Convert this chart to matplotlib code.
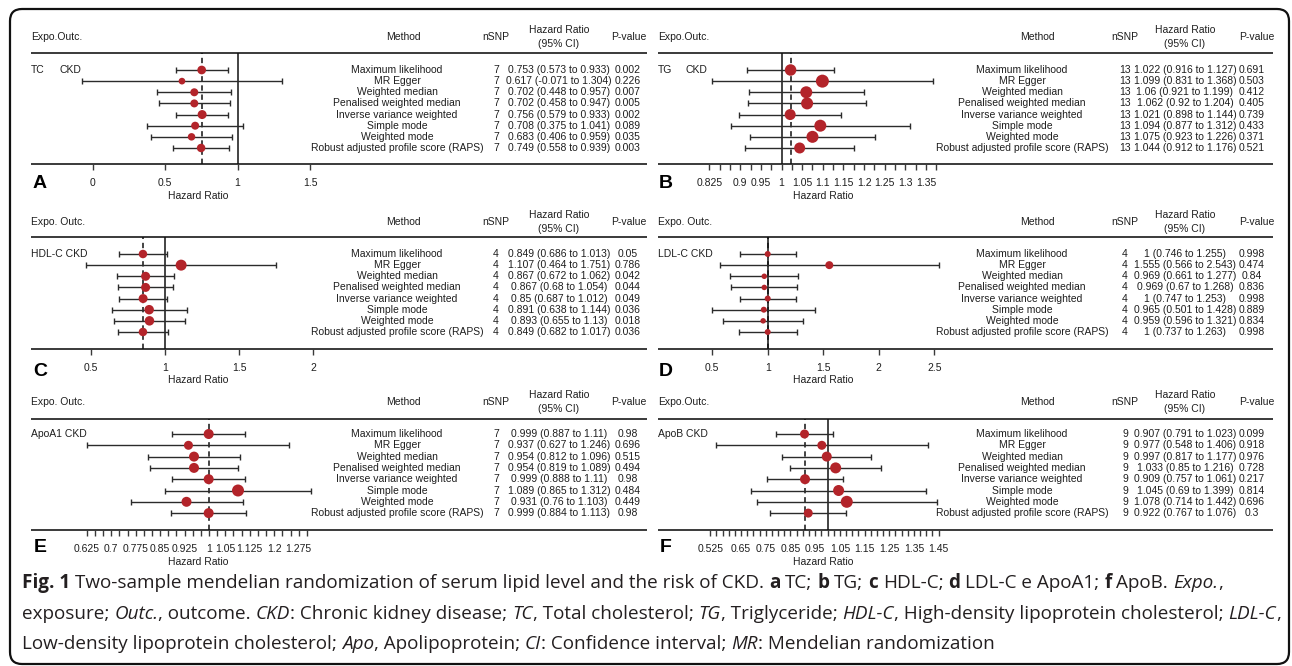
import numpy as np
import matplotlib
matplotlib.use("Agg")
import matplotlib.pyplot as plt
from matplotlib.patches import FancyBboxPatch
from matplotlib.font_manager import FontProperties

# ---- data -------------------------------------------------------------
methods = ["Maximum likelihood", "MR Egger", "Weighted median",
           "Penalised weighted median", "Inverse variance weighted",
           "Simple mode", "Weighted mode",
           "Robust adjusted profile score (RAPS)"]

tc_hr = [0.753, 0.617, 0.702, 0.702, 0.756, 0.708, 0.683, 0.749]
tc_lo = [0.573, -0.071, 0.448, 0.458, 0.579, 0.375, 0.406, 0.558]
tc_hi = [0.933, 1.304, 0.957, 0.947, 0.933, 1.041, 0.959, 0.939]
tc_p = [0.002, 0.226, 0.007, 0.005, 0.002, 0.089, 0.035, 0.003]

tg_hr = [1.022, 1.099, 1.06, 1.062, 1.021, 1.094, 1.075, 1.044]
tg_lo = [0.916, 0.831, 0.921, 0.92, 0.898, 0.877, 0.923, 0.912]
tg_hi = [1.127, 1.368, 1.199, 1.204, 1.144, 1.312, 1.226, 1.176]
tg_p = [0.691, 0.503, 0.412, 0.405, 0.739, 0.433, 0.371, 0.521]

hdl_hr = [0.849, 1.107, 0.867, 0.867, 0.85, 0.891, 0.893, 0.849]
hdl_lo = [0.686, 0.464, 0.672, 0.68, 0.687, 0.638, 0.655, 0.682]
hdl_hi = [1.013, 1.751, 1.062, 1.054, 1.012, 1.144, 1.13, 1.017]
hdl_p = [0.05, 0.786, 0.042, 0.044, 0.049, 0.036, 0.018, 0.036]

ldl_hr = [1, 1.555, 0.969, 0.969, 1, 0.965, 0.959, 1]
ldl_lo = [0.746, 0.566, 0.661, 0.67, 0.747, 0.501, 0.596, 0.737]
ldl_hi = [1.255, 2.543, 1.277, 1.268, 1.253, 1.428, 1.321, 1.263]
ldl_p = [0.998, 0.474, 0.84, 0.836, 0.998, 0.889, 0.834, 0.998]

apoa_hr = [0.999, 0.937, 0.954, 0.954, 0.999, 1.089, 0.931, 0.999]
apoa_lo = [0.887, 0.627, 0.812, 0.819, 0.888, 0.865, 0.76, 0.884]
apoa_hi = [1.11, 1.246, 1.096, 1.089, 1.11, 1.312, 1.103, 1.113]
apoa_p = [0.98, 0.696, 0.515, 0.494, 0.98, 0.484, 0.449, 0.98]

apob_hr = [0.907, 0.977, 0.997, 1.033, 0.909, 1.045, 1.078, 0.922]
apob_lo = [0.791, 0.548, 0.817, 0.85, 0.757, 0.69, 0.714, 0.767]
apob_hi = [1.023, 1.406, 1.177, 1.216, 1.061, 1.399, 1.442, 1.076]
apob_p = [0.099, 0.918, 0.976, 0.728, 0.217, 0.814, 0.696, 0.3]

exposures = ["TC", "TG", "HDL-C", "LDL-C", "ApoA1", "ApoB"]
nsnp = [7, 13, 4, 4, 7, 9]

# axis ticks / labels
ticks_a = [0, 0.5, 1, 1.5]
ticks_b = np.arange(0.825, 1.3751, 0.025)
labels_b = [0.825, 0.9, 0.95, 1, 1.05, 1.1, 1.15, 1.2, 1.25, 1.3, 1.35]
ticks_c = [0.5, 1, 1.5, 2]
ticks_d = [0.5, 1, 1.5, 2, 2.5]
ticks_e = np.arange(0.625, 1.3001, 0.025)
labels_e = [0.625, 0.7, 0.775, 0.85, 0.925, 1, 1.05, 1.125, 1.2, 1.275]
ticks_f = np.arange(0.525, 1.4501, 0.025)
labels_f = [0.525, 0.65, 0.75, 0.85, 0.95, 1.05, 1.15, 1.25, 1.35, 1.45]

# ---- styling ----------------------------------------------------------
W, H = 1292, 666
RED = "#b3242a"
INK = "#1e1e1e"
LINE = "#3a3a3a"
TFONT = "Liberation Sans"
TS = 7.5

# marker diameters (px) per panel
dots = {
    "A": [8.7, 6.7, 8, 8, 9, 8, 7.5, 8.5],
    "B": [11.5, 13, 12, 12, 11, 12, 12, 11],
    "C": [8.5, 11, 9, 9, 9, 9.5, 9.5, 8.5],
    "D": [6, 8, 5.5, 5.5, 6, 6, 5.5, 6],
    "E": [10, 9, 10, 10, 10, 12, 10, 10],
    "F": [9, 9, 10, 11, 10, 11, 12, 9],
}

# rows of panels: header y, top line, first row, row step, bottom line, xlabel y, letter y
rows_geom = {
    "top": dict(head=37, top=53, row0=70, step=11.14, bot=164, xlab=196, let=183),
    "mid": dict(head=222, top=237, row0=254, step=11.14, bot=349, xlab=380, let=371),
    "bot": dict(head=402, top=419, row0=434, step=11.3, bot=530, xlab=562, let=547),
}
# columns of panels
cols_geom = {
    "left": dict(x0=31, x1=647, fx1=330, meth=397, methh=403, n=496, hr=559,
                 p=628, ph=629, xlab=198, let=40),
    "right": dict(x0=658, x1=1273, fx1=955, meth=1022, methh=1037, n=1125, hr=1185,
                  p=1252, ph=1257, xlab=823, let=666),
}

panels = [
    dict(name="A", row="top", col="left", hr=tc_hr, lo=tc_lo, hi=tc_hi, p=tc_p,
         n=nsnp[0], expo=exposures[0], head="Expo.Outc.", gap=29,
         one=237.5, k=145, ticks=ticks_a, labels=ticks_a, solid=True),
    dict(name="B", row="top", col="right", hr=tg_hr, lo=tg_lo, hi=tg_hi, p=tg_p,
         n=nsnp[1], expo=exposures[1], head="Expo.Outc.", gap=28,
         one=781.5, k=413, ticks=ticks_b, labels=labels_b, solid=True),
    dict(name="C", row="mid", col="left", hr=hdl_hr, lo=hdl_lo, hi=hdl_hi, p=hdl_p,
         n=nsnp[2], expo=exposures[2], head="Expo. Outc.", gap=None,
         one=165.3, k=148, ticks=ticks_c, labels=ticks_c, solid=True),
    dict(name="D", row="mid", col="right", hr=ldl_hr, lo=ldl_lo, hi=ldl_hi, p=ldl_p,
         n=nsnp[3], expo=exposures[3], head="Expo. Outc.", gap=None,
         one=767.7, k=111, ticks=ticks_d, labels=ticks_d, solid=True),
    dict(name="E", row="bot", col="left", hr=apoa_hr, lo=apoa_lo, hi=apoa_hi, p=apoa_p,
         n=nsnp[4], expo=exposures[4], head="Expo. Outc.", gap=None,
         one=209, k=326, ticks=ticks_e, labels=labels_e, solid=False),
    dict(name="F", row="bot", col="right", hr=apob_hr, lo=apob_lo, hi=apob_hi, p=apob_p,
         n=nsnp[5], expo=exposures[5], head="Expo.Outc.", gap=None,
         one=827.5, k=247, ticks=ticks_f, labels=labels_f, solid=True),
]

fig = plt.figure(figsize=(W / 100, H / 100), dpi=100)
bg = fig.add_axes([0, 0, 1, 1])
bg.set_xlim(0, W)
bg.set_ylim(H, 0)
bg.axis("off")

# rounded frame
bg.add_patch(FancyBboxPatch((10, 9), 1279, 655, boxstyle="round,pad=0,rounding_size=12",
                            fill=False, ec="#111111", lw=1.6))


def ttext(x, y, s, ha="center", **kw):
    bg.text(x, y, s, ha=ha, va="center", fontsize=TS, family=TFONT, color=INK, **kw)


for pn in panels:
    rg = rows_geom[pn["row"]]
    cg = cols_geom[pn["col"]]
    x0, x1 = cg["x0"], cg["x1"]

    # table header
    ttext(x0, rg["head"], pn["head"], ha="left")
    ttext(cg["methh"], rg["head"], "Method")
    ttext(cg["n"], rg["head"], "nSNP")
    ttext(cg["hr"], rg["head"] - 7, "Hazard Ratio")
    ttext(cg["hr"], rg["head"] + 7, "(95% CI)")
    ttext(cg["ph"], rg["head"], "P-value")
    bg.plot([x0, x1], [rg["top"], rg["top"]], color=LINE, lw=1.4, solid_capstyle="butt")
    bg.plot([x0, x1], [rg["bot"], rg["bot"]], color=LINE, lw=1.4, solid_capstyle="butt")

    # exposure / outcome label
    if pn["gap"]:
        ttext(x0, rg["row0"], pn["expo"], ha="left")
        ttext(x0 + pn["gap"], rg["row0"], "CKD", ha="left")
    else:
        ttext(x0, rg["row0"], pn["expo"] + " CKD", ha="left")

    # table rows
    for i, m in enumerate(methods):
        y = rg["row0"] + i * rg["step"]
        ttext(cg["meth"], y, m)
        ttext(cg["n"], y, str(pn["n"]))
        ttext(cg["hr"], y, f"{pn['hr'][i]:g} ({pn['lo'][i]:g} to {pn['hi'][i]:g})")
        ttext(cg["p"], y, f"{pn['p'][i]:g}")

    # forest axes
    ax = fig.add_axes([x0 / W, 1 - rg["bot"] / H, (cg["fx1"] - x0) / W,
                       (rg["bot"] - rg["top"]) / H])
    ax.patch.set_alpha(0)
    ax.set_xlim(1 + (x0 - pn["one"]) / pn["k"], 1 + (cg["fx1"] - pn["one"]) / pn["k"])
    ax.set_ylim((rg["bot"] - rg["row0"]) / rg["step"], (rg["top"] - rg["row0"]) / rg["step"])
    for s in ax.spines.values():
        s.set_visible(False)
    ax.set_yticks([])

    hr = np.array(pn["hr"])
    lo = np.array(pn["lo"])
    hi = np.array(pn["hi"])
    yy = np.arange(len(hr))
    if pn["solid"]:
        ax.axvline(1, color="#111111", lw=1.1, zorder=1)
    ax.axvline(hr[0], color="#111111", lw=1.1, ls=(0, (3.5, 2.5)), zorder=1)
    ax.errorbar(hr, yy, xerr=[hr - lo, hi - hr], fmt="none", ecolor="#2b2b2b",
                elinewidth=1.0, capsize=1.9, capthick=1.0, zorder=2)
    ax.scatter(hr, yy, s=(np.array(dots[pn["name"]]) * 0.72) ** 2, color=RED,
               edgecolors="none", zorder=3)

    labset = {round(v, 3) for v in pn["labels"]}
    ax.set_xticks(pn["ticks"])
    ax.set_xticklabels([f"{t:g}" if round(t, 3) in labset else "" for t in
                        [round(float(v), 3) for v in pn["ticks"]]],
                       fontsize=TS, family=TFONT, color=INK)
    ax.tick_params(axis="x", direction="out", length=4, width=1.0, color=LINE, pad=6)

    bg.text(cg["xlab"], rg["xlab"], "Hazard Ratio", ha="center", va="center",
            fontsize=TS, family=TFONT, color=INK)
    bg.text(cg["let"], rg["let"], pn["name"], ha="center", va="center",
            fontsize=14, fontweight="bold", family=TFONT, color="#000000")

# ---- caption ----------------------------------------------------------
CFONT = "Open Sans"
renderer = fig.canvas.get_renderer()

caption = [
    [("Fig. 1", "bold", "normal"),
     (" Two-sample mendelian randomization of serum lipid level and the risk of CKD. ", "normal", "normal"),
     ("a", "bold", "normal"), (" TC; ", "normal", "normal"),
     ("b", "bold", "normal"), (" TG; ", "normal", "normal"),
     ("c", "bold", "normal"), (" HDL-C; ", "normal", "normal"),
     ("d", "bold", "normal"), (" LDL-C e ApoA1; ", "normal", "normal"),
     ("f", "bold", "normal"), (" ApoB. ", "normal", "normal"),
     ("Expo.", "normal", "italic"), (",", "normal", "normal")],
    [("exposure; ", "normal", "normal"), ("Outc.", "normal", "italic"),
     (", outcome. ", "normal", "normal"), ("CKD", "normal", "italic"),
     (": Chronic kidney disease; ", "normal", "normal"), ("TC", "normal", "italic"),
     (", Total cholesterol; ", "normal", "normal"), ("TG", "normal", "italic"),
     (", Triglyceride; ", "normal", "normal"), ("HDL-C", "normal", "italic"),
     (", High-density lipoprotein cholesterol; ", "normal", "normal"),
     ("LDL-C", "normal", "italic"), (",", "normal", "normal")],
    [("Low-density lipoprotein cholesterol; ", "normal", "normal"),
     ("Apo", "normal", "italic"), (", Apolipoprotein; ", "normal", "normal"),
     ("CI", "normal", "italic"), (": Confidence interval; ", "normal", "normal"),
     ("MR", "normal", "italic"), (": Mendelian randomization", "normal", "normal")],
]
cap_y = [583, 614, 644]
CAP_X0, CAP_X1 = 22, 1270


def width(s, prop):
    w, _, _ = renderer.get_text_width_height_descent(s, prop, ismath=False)
    return w


def layout(line, size):
    out = []
    x = CAP_X0
    for txt, wt, st in line:
        prop = FontProperties(family=CFONT, size=size, weight=wt, style=st)
        sp = width("a a", prop) - width("aa", prop)
        lead = len(txt) - len(txt.lstrip(" "))
        trail = len(txt) - len(txt.rstrip(" "))
        core = txt.strip(" ")
        x += lead * sp
        out.append((x, core, prop))
        x += width(core, prop) + trail * sp
    return out, x


# fit the widest caption line to the frame width
widest = max(layout(line, 12)[1] for line in caption)
CS = 12 * (CAP_X1 - CAP_X0) / (widest - CAP_X0)

for line, y in zip(caption, cap_y):
    pieces, _ = layout(line, CS)
    for x, core, prop in pieces:
        bg.text(x, y, core, ha="left", va="center", fontproperties=prop, color="#231f20")

fig.savefig("out.png", dpi=100)
